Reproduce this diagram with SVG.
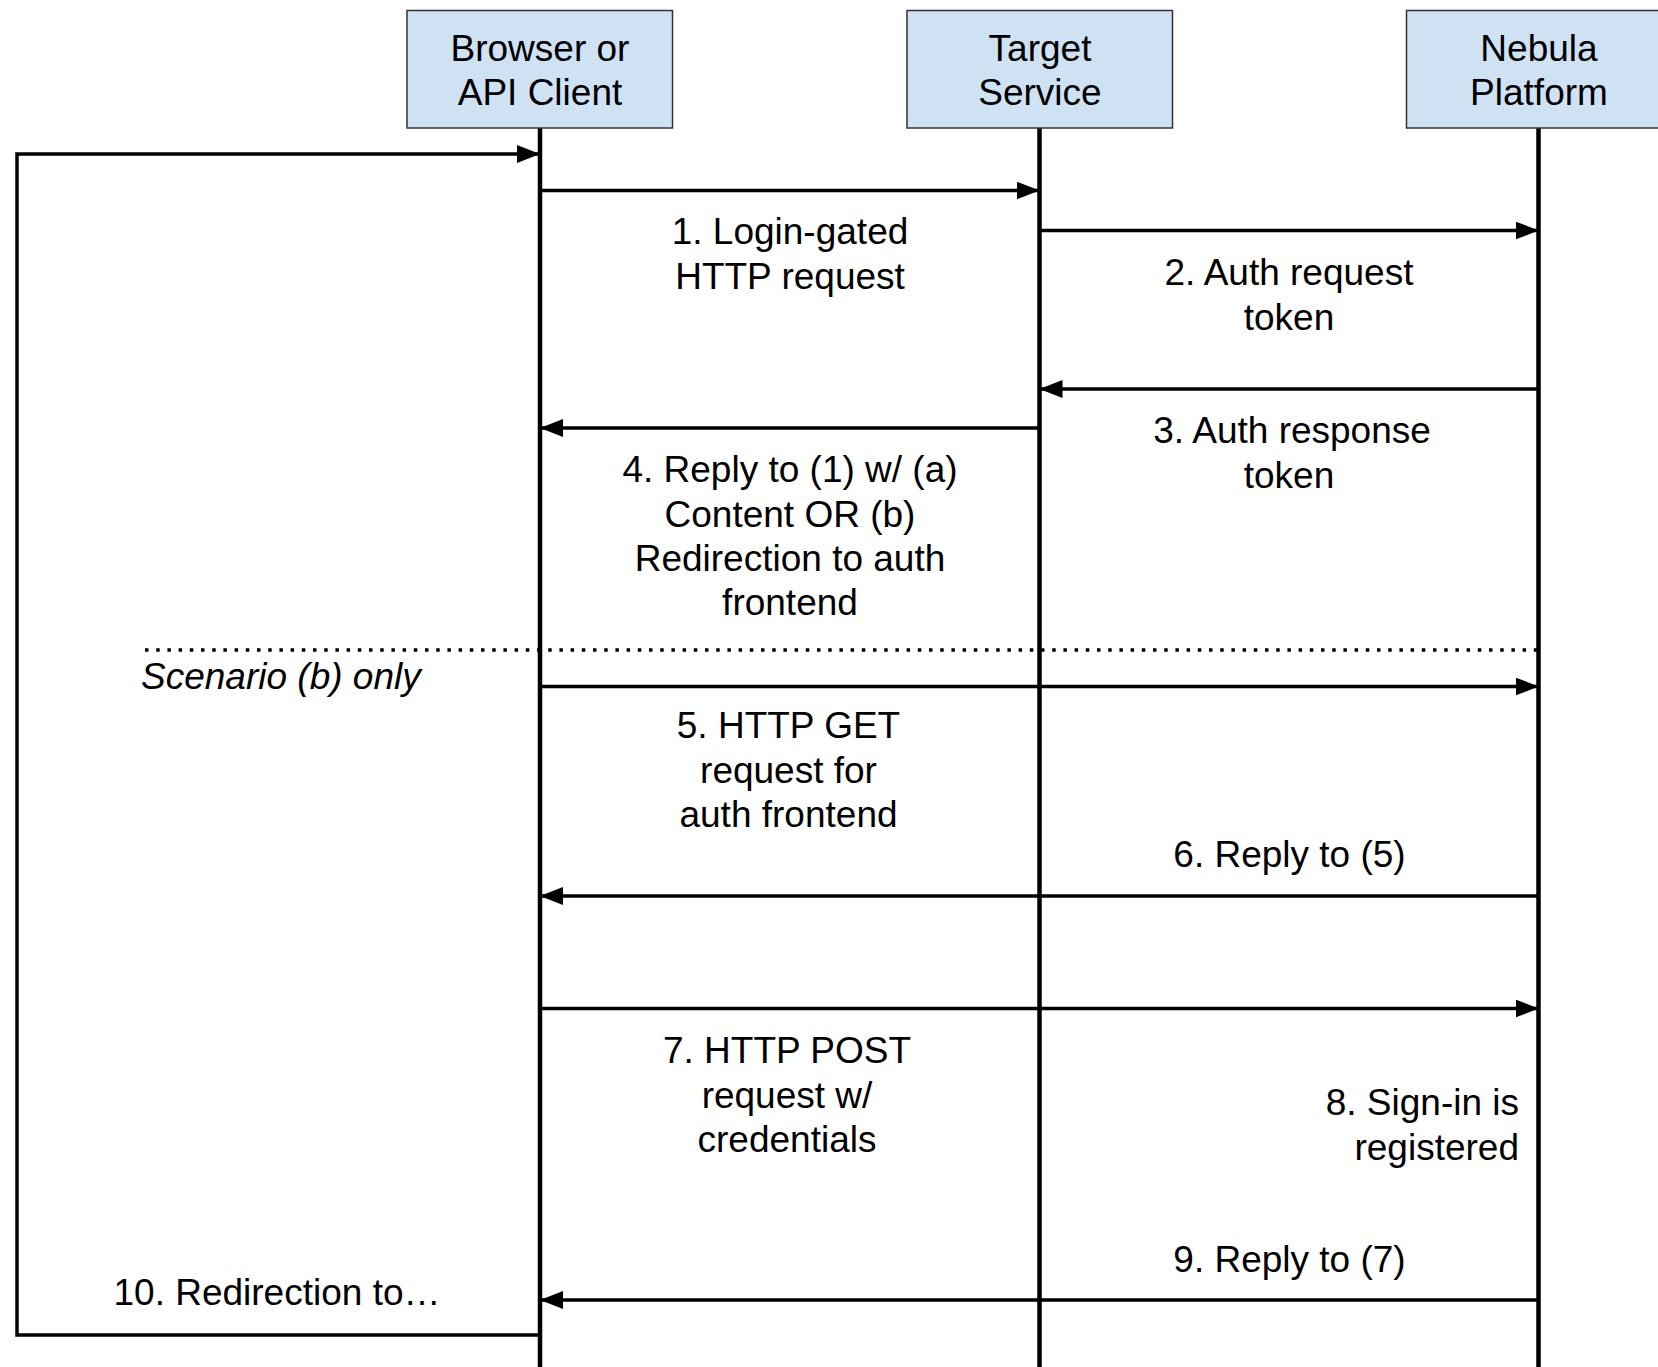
<svg xmlns="http://www.w3.org/2000/svg" width="1658" height="1367" viewBox="0 0 1658 1367">
  <style>
    .box { fill: #cfe2f3; stroke: #333333; stroke-width: 1.5; }
    .life { stroke: #000; stroke-width: 4.5; fill: none; }
    .msg { stroke: #000; stroke-width: 3.5; fill: none; }
    .t { font-family: "Liberation Sans", Arial, sans-serif; font-size: 37px; fill: #000; text-anchor: middle; }
    .it { font-style: italic; text-anchor: start; }
    .end { text-anchor: end; }
    .dots { stroke: #000; stroke-width: 3.5; stroke-dasharray: 3.5 7.7; fill: none; }
  </style>
  <defs>
    <marker id="ah" markerUnits="userSpaceOnUse" markerWidth="26" markerHeight="20" refX="23" refY="9" orient="auto">
      <path d="M0,0 L23,9 L0,18 Z" fill="#000"/>
    </marker>
  </defs>
  <rect width="1658" height="1367" fill="#fff"/>

  <g id="lifelines">
    <line class="life" x1="540" y1="128" x2="540" y2="1367"/>
    <line class="life" x1="1039.5" y1="128" x2="1039.5" y2="1367"/>
    <line class="life" x1="1538.5" y1="128" x2="1538.5" y2="1367"/>
  </g>

  <g id="node-browser">
    <rect class="box" x="407" y="10.5" width="265.5" height="117.5"/>
    <text class="t" x="540" y="61">Browser or</text>
    <text class="t" x="540" y="105">API Client</text>
  </g>
  <g id="node-target">
    <rect class="box" x="907" y="10.5" width="265.5" height="117.5"/>
    <text class="t" x="1040" y="61">Target</text>
    <text class="t" x="1040" y="105">Service</text>
  </g>
  <g id="node-nebula">
    <rect class="box" x="1406.5" y="10.5" width="265.5" height="117.5"/>
    <text class="t" x="1539" y="61">Nebula</text>
    <text class="t" x="1539" y="105">Platform</text>
  </g>

  <g id="connectors">
    <polyline class="msg" points="540,1335 17,1335 17,154 540,154" marker-end="url(#ah)"/>
    <line class="msg" x1="542" y1="190.5" x2="1039.5" y2="190.5" marker-end="url(#ah)"/>
    <line class="msg" x1="1041" y1="230.5" x2="1538.5" y2="230.5" marker-end="url(#ah)"/>
    <line class="msg" x1="1537" y1="389" x2="1039.5" y2="389" marker-end="url(#ah)"/>
    <line class="msg" x1="1038" y1="428" x2="540" y2="428" marker-end="url(#ah)"/>
    <line class="dots" x1="145" y1="650" x2="1540" y2="650"/>
    <line class="msg" x1="542" y1="686.5" x2="1538.5" y2="686.5" marker-end="url(#ah)"/>
    <line class="msg" x1="1537" y1="896" x2="540" y2="896" marker-end="url(#ah)"/>
    <line class="msg" x1="542" y1="1008.5" x2="1538.5" y2="1008.5" marker-end="url(#ah)"/>
    <line class="msg" x1="1537" y1="1300" x2="540" y2="1300" marker-end="url(#ah)"/>
  </g>

  <g id="labels">
    <text class="t" x="790" y="244">1. Login-gated</text>
    <text class="t" x="790" y="288.5">HTTP request</text>
    <text class="t" x="1289" y="285">2. Auth request</text>
    <text class="t" x="1289" y="329.5">token</text>
    <text class="t" x="1292" y="443">3. Auth response</text>
    <text class="t" x="1289" y="487.5">token</text>
    <text class="t" x="790" y="482">4. Reply to (1) w/ (a)</text>
    <text class="t" x="790" y="526.5">Content OR (b)</text>
    <text class="t" x="790" y="570.5">Redirection to auth</text>
    <text class="t" x="790" y="615">frontend</text>
    <text class="t it" x="141" y="689">Scenario (b) only</text>
    <text class="t" x="788.5" y="738">5. HTTP GET</text>
    <text class="t" x="788.5" y="782.5">request for</text>
    <text class="t" x="788.5" y="827">auth frontend</text>
    <text class="t" x="1289.5" y="867">6. Reply to (5)</text>
    <text class="t" x="787" y="1063">7. HTTP POST</text>
    <text class="t" x="787" y="1107.5">request w/</text>
    <text class="t" x="787" y="1152">credentials</text>
    <text class="t end" x="1519" y="1115">8. Sign-in is</text>
    <text class="t end" x="1519" y="1160">registered</text>
    <text class="t" x="1289.5" y="1272">9. Reply to (7)</text>
    <text class="t" x="277" y="1305">10. Redirection to…</text>
  </g>
</svg>
